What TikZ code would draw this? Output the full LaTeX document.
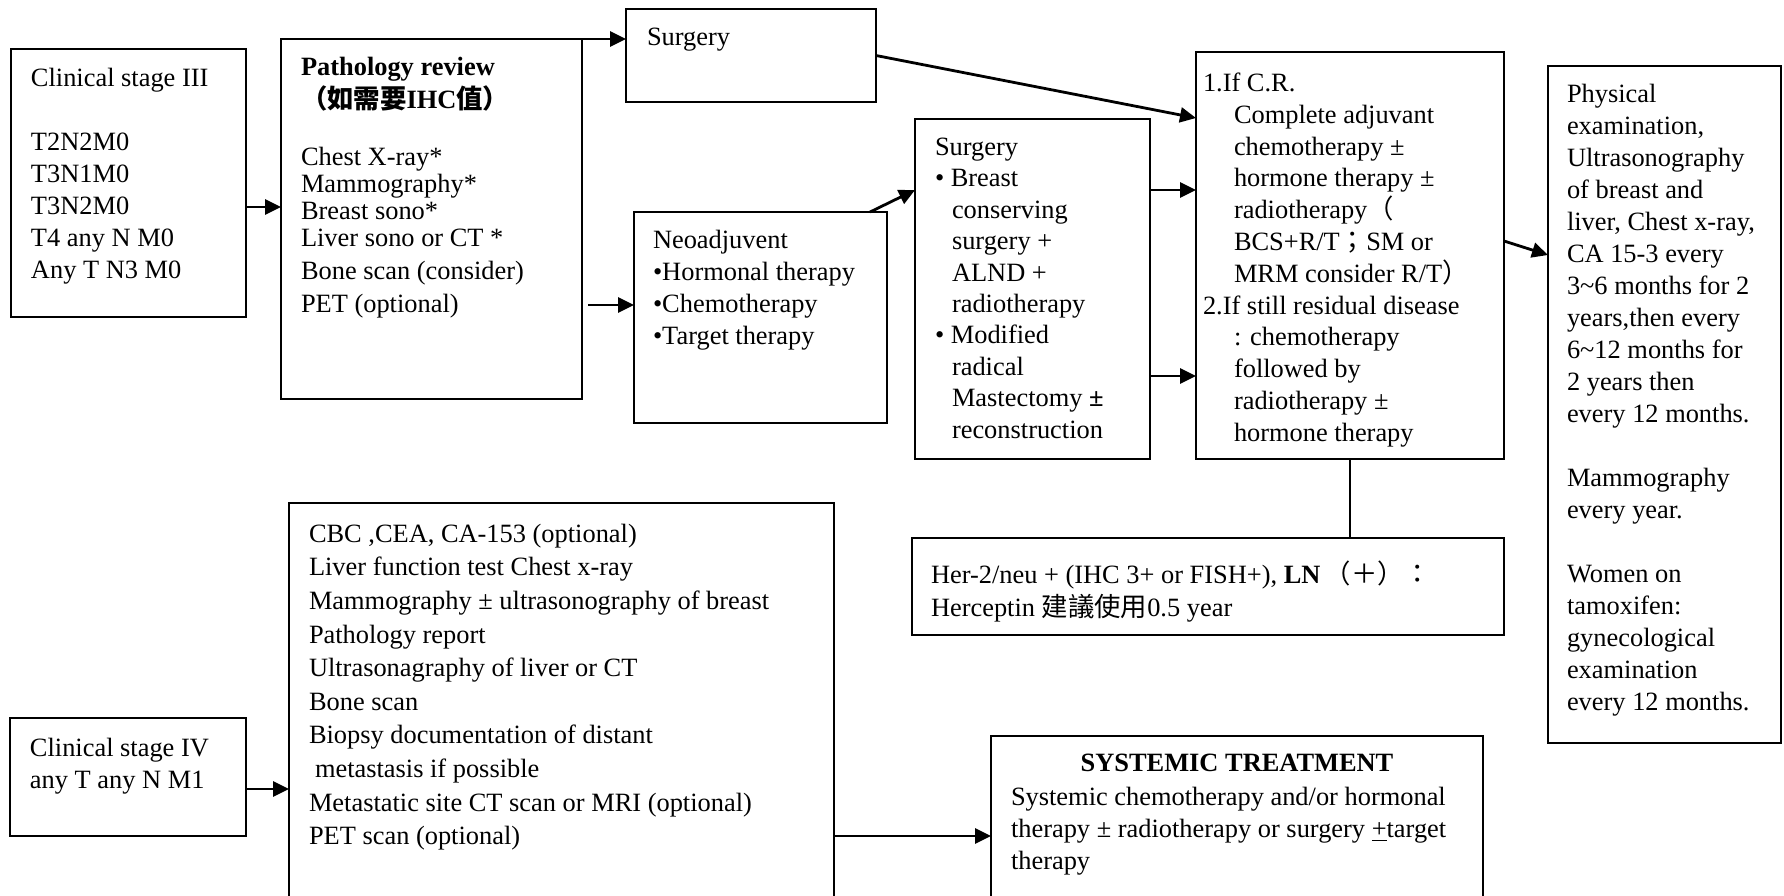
\documentclass[tikz,border=0pt]{standalone}
\usepackage{fontspec}
\setmainfont{Liberation Serif}
\newfontfamily\cjk{Noto Sans CJK TC}
\usetikzlibrary{arrows.meta,calc}
\pgfdeclarelayer{bg}
\pgfsetlayers{bg,main}
\tikzset{
    every node/.style={inner sep=0pt, outer sep=0pt},
    box/.style={rectangle, draw, line width=1.4pt, anchor=north west},
    txt/.style={anchor=north west, align=left, font=\fontsize{13.2}{16}\selectfont},
    arr/.style={line width=1.4pt, -{Triangle[length=8pt, width=7.5pt]}},
    plain/.style={line width=1.4pt}
}
\newcommand{\ind}{\hspace*{8.5pt}}
\newcommand{\crind}{\hspace*{15.5pt}}

\begin{document}
\begin{tikzpicture}[x=0.5pt, y=-0.5pt]
        \useasboundingbox (0,0) rectangle (1784,895);
        \clip (0,0) rectangle (1784,895);
        \node (stage3) [box, minimum width=117.5pt, minimum height=134pt] at (11,49) {};
        \node (path) [box, minimum width=150.5pt, minimum height=180pt] at (281,39) {};
        \node (surg1) [box, minimum width=125pt, minimum height=46.5pt] at (626,9) {};
        \node (neo) [box, minimum width=126.5pt, minimum height=105.5pt] at (634,212) {};
        \node (surg2) [box, minimum width=117.5pt, minimum height=170pt] at (915,119) {};
        \node (cr) [box, minimum width=154pt, minimum height=203.5pt] at (1196,52) {};
        \node (follow) [box, minimum width=116.5pt, minimum height=338.5pt] at (1548,66) {};
        \node (her2) [box, minimum width=296pt, minimum height=48.5pt] at (912,538) {};
        \node (stage4) [box, minimum width=118pt, minimum height=59pt] at (10,718) {};
        \node (tests) [box, minimum width=272.5pt, minimum height=230pt] at (289,503) {};
        \node (sys) [box, minimum width=246pt, minimum height=110pt] at (991,736) {};
        \node (stage3t) [txt] at (31,68) {Clinical stage III\\[16pt]T2N2M0\\T3N1M0\\T3N2M0\\T4 any N M0\\Any T N3 M0};
        \node (patht) [txt] at (301,57) {\textbf{Pathology review}\\[0.5pt]{\cjk\bfseries （如需要}\textbf{IHC}{\cjk\bfseries 值）}\\[12.5pt]Chest X-ray*\\[-2.5pt]Mammography*\\[-2.5pt]Breast sono*\\[-2.5pt]Liver sono or CT *\\[0.5pt]Bone scan (consider)\\[0.5pt]PET (optional)};
        \node (surg1t) [txt] at (647,28) {Surgery};
        \node (neot) [txt] at (653,230) {Neoadjuvent\\•Hormonal therapy\\•Chemotherapy\\•Target therapy};
        \node (surg2t) [txt, font=\fontsize{13.2}{15.7}\selectfont] at (935,138) {Surgery\\•\ Breast\\\ind conserving\\\ind surgery +\\\ind ALND +\\\ind radiotherapy\\•\ Modified\\\ind radical\\\ind Mastectomy \textbf{±}\\\ind reconstruction};
        \node (crt) [txt, font=\fontsize{13.2}{15.9}\selectfont] at (1203,73) {1.If C.R.\\\crind Complete adjuvant\\\crind chemotherapy ±\\\crind hormone therapy ±\\\crind radiotherapy{\cjk（}\\\crind BCS+R/T{\cjk；}SM or\\\crind MRM consider R/T{\cjk）}\\2.If still residual disease\\\crind : chemotherapy\\\crind followed by\\\crind radiotherapy ±\\\crind hormone therapy};
        \node (followt) [txt] at (1567,84) {Physical\\examination,\\Ultrasonography\\of breast and\\liver, Chest x-ray,\\CA 15-3 every\\3\textasciitilde6 months for 2\\years,then every\\6\textasciitilde12 months for\\2 years then\\every 12 months.\\[16pt]Mammography\\every year.\\[16pt]Women on\\tamoxifen:\\gynecological\\examination\\every 12 months.};
        \node (her2t) [txt, font=\fontsize{13.2}{16.5}\selectfont] at (931,561) {Her-2/neu + (IHC 3+ or FISH+), \textbf{LN}\,{\cjk（＋）：}\\Herceptin {\cjk 建議使用}0.5 year};
        \node (stage4t) [txt] at (30,738) {Clinical stage IV\\any T any N M1};
        \node (testst) [txt, font=\fontsize{13.2}{16.8}\selectfont] at (309,524) {CBC ,CEA, CA-153 (optional)\\Liver function test Chest x-ray\\Mammography ± ultrasonography of breast\\Pathology report\\Ultrasonagraphy of liver or CT\\Bone scan\\Biopsy documentation of distant\\\hspace*{3pt}metastasis if possible\\Metastatic site CT scan or MRI (optional)\\PET scan (optional)};
        \node (systitle) [txt, anchor=north, font=\fontsize{13.2}{16}\selectfont\bfseries] at (1237,754) {SYSTEMIC TREATMENT};
        \node (syst) [txt] at (1011,787) {Systemic chemotherapy and/or hormonal\\therapy ± radiotherapy or surgery \underline{+}target\\therapy};
        \coordinate (l1) at (0,207);
        \coordinate (l2) at (0,305);
        \coordinate (l3) at (0,190);
        \coordinate (l4) at (0,376);
        \coordinate (l5) at (0,118);
        \coordinate (l6) at (0,241);
        \coordinate (l7) at (0,255);
        \coordinate (l8) at (0,789);
        \coordinate (l9) at (0,836);
        \begin{pgfonlayer}{bg}
                \draw (stage3.east |- l1) edge [arr] (path.west |- l1);
                \draw (path.north east) edge [arr] (surg1.west |- path.north east);
                \draw ($(path.east |- l2)+(6,0)$) edge [arr] (neo.west |- l2);
                \draw ($(neo.north west)!0.933!(neo.north east)$) edge [arr] (surg2.west |- l3);
                \draw (surg1.east) edge [arr] (cr.west |- l5);
                \draw (surg2.east |- l3) edge [arr] (cr.west |- l3);
                \draw (surg2.east |- l4) edge [arr] (cr.west |- l4);
                \draw (cr.east |- l6) edge [arr] (follow.west |- l7);
                \draw (cr.south) edge [plain] (her2.north -| cr.south);
                \draw (stage4.east |- l8) edge [arr] (tests.west |- l8);
                \draw (tests.east |- l9) edge [arr] (sys.west |- l9);
        \end{pgfonlayer}
\end{tikzpicture}
\end{document}
